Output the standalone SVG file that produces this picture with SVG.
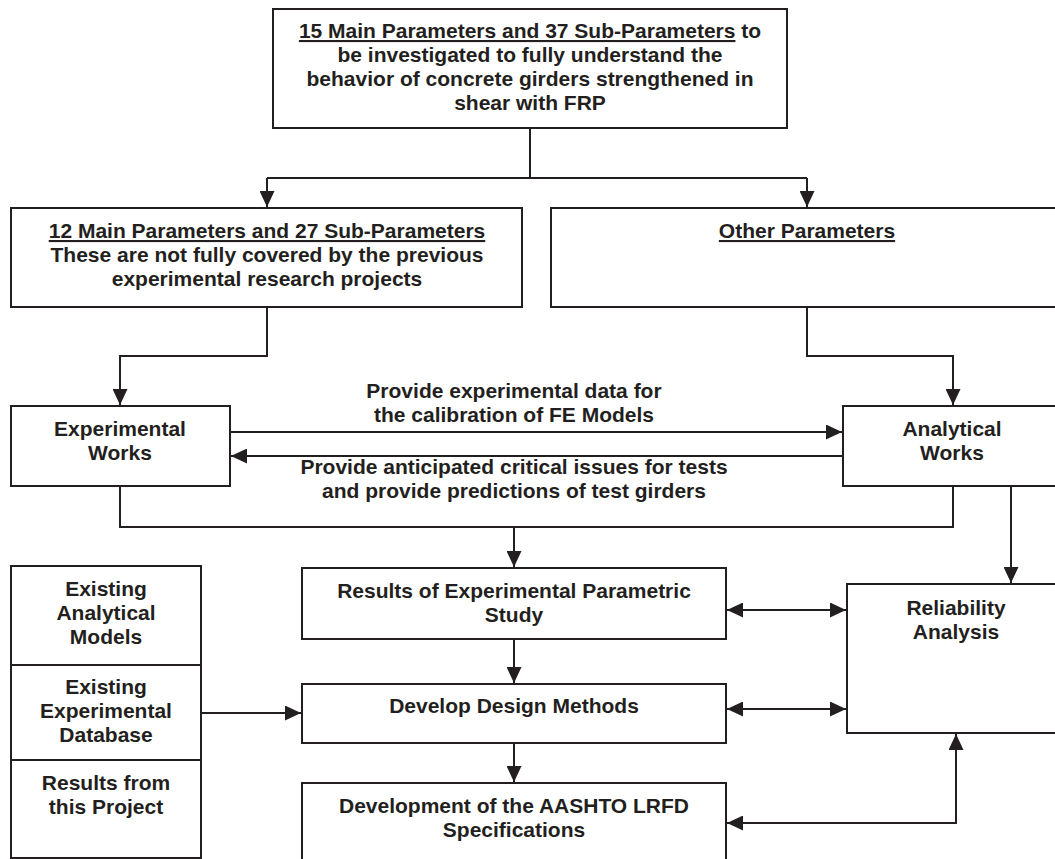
<svg xmlns="http://www.w3.org/2000/svg" width="1055" height="859" viewBox="0 0 1055 859">
<defs>
<style>
.box{fill:#fff;stroke:#231f20;stroke-width:2}
.t{font-family:"Liberation Sans",Arial,sans-serif;font-weight:bold;font-size:21px;fill:#231f20;text-anchor:middle}
.u{text-decoration:underline}
.c{fill:none;stroke:#231f20;stroke-width:2}
</style>
<marker id="ah" markerUnits="userSpaceOnUse" markerWidth="16" markerHeight="15" refX="16" refY="7.5" orient="auto-start-reverse" viewBox="0 0 16 15">
<path d="M0,0 L16,7.5 L0,15 z" fill="#231f20"/>
</marker>
</defs>
<rect width="1055" height="859" fill="#fff"/>

<g id="connectors">
<path class="c" d="M530,128 V178"/>
<path class="c" d="M267,178 H807"/>
<path class="c" d="M267,178 V207" marker-end="url(#ah)"/>
<path class="c" d="M807,178 V207" marker-end="url(#ah)"/>
<path class="c" d="M267,307 V356 H120 V405" marker-end="url(#ah)"/>
<path class="c" d="M807,307 V356 H953 V405" marker-end="url(#ah)"/>
<path class="c" d="M230,432 H842" marker-end="url(#ah)"/>
<path class="c" d="M843,456 H231" marker-end="url(#ah)"/>
<path class="c" d="M120,486 V527 H953 V486"/>
<path class="c" d="M514,527 V567" marker-end="url(#ah)"/>
<path class="c" d="M1011,486 V583" marker-end="url(#ah)"/>
<path class="c" d="M514,639 V683" marker-end="url(#ah)"/>
<path class="c" d="M514,743 V782" marker-end="url(#ah)"/>
<path class="c" d="M201,713 H301" marker-end="url(#ah)"/>
<path class="c" d="M727,610 H846" marker-start="url(#ah)" marker-end="url(#ah)"/>
<path class="c" d="M727,709 H846" marker-start="url(#ah)" marker-end="url(#ah)"/>
<path class="c" d="M727,823 H956 V734" marker-start="url(#ah)" marker-end="url(#ah)"/>
<text class="t" x="514" y="398">Provide experimental data for</text>
<text class="t" x="514" y="422">the calibration of FE Models</text>
<text class="t" x="514" y="474">Provide anticipated critical issues for tests</text>
<text class="t" x="514" y="498">and provide predictions of test girders</text>
</g>

<g id="top">
<rect class="box" x="273" y="9" width="514" height="119"/>
<text class="t" x="530" y="38"><tspan class="u">15 Main Parameters and 37 Sub-Parameters</tspan> to</text>
<text class="t" x="530" y="62">be investigated to fully understand the</text>
<text class="t" x="530" y="86">behavior of concrete girders strengthened in</text>
<text class="t" x="530" y="110">shear with FRP</text>
</g>

<g id="main12">
<rect class="box" x="11" y="208" width="511" height="99"/>
<text class="t" x="267" y="238"><tspan class="u">12 Main Parameters and 27 Sub-Parameters</tspan></text>
<text class="t" x="267" y="262">These are not fully covered by the previous</text>
<text class="t" x="267" y="286">experimental research projects</text>
</g>

<g id="other">
<rect class="box" x="551" y="208" width="520" height="99"/>
<text class="t" x="807" y="238"><tspan class="u">Other Parameters</tspan></text>
</g>

<g id="experimental">
<rect class="box" x="11" y="406" width="219" height="80"/>
<text class="t" x="120" y="436">Experimental</text>
<text class="t" x="120" y="460">Works</text>
</g>

<g id="analytical">
<rect class="box" x="843" y="406" width="230" height="80"/>
<text class="t" x="952" y="436">Analytical</text>
<text class="t" x="952" y="460">Works</text>
</g>

<g id="existingAnalytical">
<rect class="box" x="11" y="566" width="190" height="99"/>
<text class="t" x="106" y="596">Existing</text>
<text class="t" x="106" y="620">Analytical</text>
<text class="t" x="106" y="644">Models</text>
</g>

<g id="existingExperimental">
<rect class="box" x="11" y="665" width="190" height="95"/>
<text class="t" x="106" y="694">Existing</text>
<text class="t" x="106" y="718">Experimental</text>
<text class="t" x="106" y="742">Database</text>
</g>

<g id="resultsProject">
<rect class="box" x="11" y="760" width="190" height="98"/>
<text class="t" x="106" y="790">Results from</text>
<text class="t" x="106" y="814">this Project</text>
</g>

<g id="results">
<rect class="box" x="302" y="568" width="424" height="71"/>
<text class="t" x="514" y="598">Results of Experimental Parametric</text>
<text class="t" x="514" y="622">Study</text>
</g>

<g id="design">
<rect class="box" x="302" y="684" width="424" height="59"/>
<text class="t" x="514" y="713">Develop Design Methods</text>
</g>

<g id="aashto">
<rect class="box" x="302" y="783" width="424" height="90"/>
<text class="t" x="514" y="813">Development of the AASHTO LRFD</text>
<text class="t" x="514" y="837">Specifications</text>
</g>

<g id="reliability">
<rect class="box" x="847" y="584" width="220" height="149"/>
<text class="t" x="956" y="615">Reliability</text>
<text class="t" x="956" y="639">Analysis</text>
</g>
</svg>
